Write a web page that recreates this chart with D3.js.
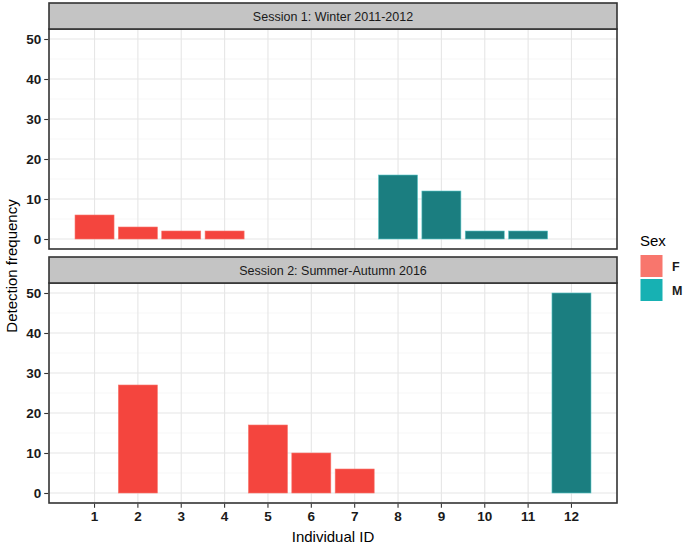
<!DOCTYPE html>
<html>
<head>
<meta charset="utf-8">
<script src="https://cdn.jsdelivr.net/npm/d3@7"></script>
<style>
	body { margin: 0; background: #fff; }
	text { font-family: "Liberation Sans", Arial, sans-serif; }
</style>
</head>
<body>
<div id="chart"></div>
<script>
const ids = [1, 2, 3, 4, 5, 6, 7, 8, 9, 10, 11, 12];
const sessions = ['Session 1: Winter 2011-2012', 'Session 2: Summer-Autumn 2016'];
const sexes = ['F', 'M'];
const yTicks = [0, 10, 20, 30, 40, 50];

// detections per individual: [id, sex, count]
const session1 = [
	[1, 'F', 6], [2, 'F', 3], [3, 'F', 2], [4, 'F', 2],
	[8, 'M', 16], [9, 'M', 12], [10, 'M', 2], [11, 'M', 2]
];
const session2 = [
	[2, 'F', 27], [5, 'F', 17], [6, 'F', 10], [7, 'F', 6],
	[12, 'M', 50]
];

const fills = {F: '#F4453E', M: '#1B7E80'};
const strokes = {F: '#F8766D', M: '#5CC8C9'};
const keyFills = {F: '#F8766D', M: '#17B1B3'};

const width = 685, height = 545;
const panelLeft = 49, panelRight = 617;
const panels = [
	{label: sessions[0], data: session1, stripTop: 3, top: 29, bottom: 249},
	{label: sessions[1], data: session2, stripTop: 257, top: 283, bottom: 503}
];

const svg = d3.select('#chart')
	.append('svg')
	.attr('width', width)
	.attr('height', height);

// bar width = 0.9 of step, first tick 1.05 step from the panel edge
const xScale = d3.scaleBand()
	.domain(ids)
	.range([panelLeft, panelRight])
	.paddingInner(0.1)
	.paddingOuter(0.6);

const xCentre = id => xScale(id) + xScale.bandwidth() / 2;

const _drawPanel = (p) => {
	const yScale = d3.scaleLinear()
		.domain([-2.5, 52.5])
		.range([p.bottom, p.top]);

	const g = svg.append('g');

	// minor grid
	g.selectAll('.minor')
		.data([5, 15, 25, 35, 45])
		.enter()
		.append('line')
			.attr('x1', panelLeft).attr('x2', panelRight)
			.attr('y1', d => yScale(d)).attr('y2', d => yScale(d))
			.attr('stroke', '#F2F2F2')
			.attr('stroke-width', 0.6);

	// major grid
	g.selectAll('.hmajor')
		.data(yTicks)
		.enter()
		.append('line')
			.attr('x1', panelLeft).attr('x2', panelRight)
			.attr('y1', d => yScale(d)).attr('y2', d => yScale(d))
			.attr('stroke', '#E6E6E6')
			.attr('stroke-width', 1.1);

	g.selectAll('.vmajor')
		.data(ids)
		.enter()
		.append('line')
			.attr('x1', d => xCentre(d)).attr('x2', d => xCentre(d))
			.attr('y1', p.top).attr('y2', p.bottom)
			.attr('stroke', '#E6E6E6')
			.attr('stroke-width', 1.1);

	// bars
	g.selectAll('.bar')
		.data(p.data)
		.enter()
		.append('rect')
			.attr('x', d => xScale(d[0]))
			.attr('width', xScale.bandwidth())
			.attr('y', d => yScale(d[2]))
			.attr('height', d => yScale(0) - yScale(d[2]))
			.attr('fill', d => fills[d[1]])
			.attr('stroke', d => strokes[d[1]])
			.attr('stroke-width', 0.6);

	// panel border
	g.append('rect')
		.attr('x', panelLeft).attr('y', p.top)
		.attr('width', panelRight - panelLeft)
		.attr('height', p.bottom - p.top)
		.attr('fill', 'none')
		.attr('stroke', '#333')
		.attr('stroke-width', 1.6);

	// strip
	g.append('rect')
		.attr('x', panelLeft).attr('y', p.stripTop)
		.attr('width', panelRight - panelLeft)
		.attr('height', p.top - p.stripTop)
		.attr('fill', '#C4C4C4')
		.attr('stroke', '#333')
		.attr('stroke-width', 1.6);

	g.append('text')
		.attr('x', (panelLeft + panelRight) / 2)
		.attr('y', (p.stripTop + p.top) / 2 + 4.5)
		.attr('text-anchor', 'middle')
		.attr('font-size', 12.5)
		.attr('fill', '#1A1A1A')
		.text(p.label);

	// y axis
	const yAxis = g.append('g')
		.attr('transform', `translate(${panelLeft - 0.8}, 0)`)
		.call(d3.axisLeft(yScale).tickValues(yTicks).tickSize(4).tickPadding(3));
	yAxis.select('.domain').remove();
	yAxis.selectAll('line').attr('stroke', '#333').attr('stroke-width', 1.1);
	yAxis.selectAll('text')
		.attr('font-size', 13.5)
		.attr('font-weight', 'bold')
		.attr('fill', '#1A1A1A');
};

panels.forEach(_drawPanel);

// x axis under the bottom panel
const xAxis = svg.append('g')
	.attr('transform', `translate(0, ${panels[1].bottom + 0.8})`)
	.call(d3.axisBottom(xScale).tickSize(4).tickPadding(4));
xAxis.select('.domain').remove();
xAxis.selectAll('line').attr('stroke', '#333').attr('stroke-width', 1.1);
xAxis.selectAll('text')
	.attr('font-size', 13.5)
	.attr('font-weight', 'bold')
	.attr('fill', '#1A1A1A');

// axis titles
svg.append('text')
	.attr('x', (panelLeft + panelRight) / 2)
	.attr('y', 542)
	.attr('text-anchor', 'middle')
	.attr('font-size', 15)
	.attr('fill', '#000')
	.text('Individual ID');

svg.append('text')
	.attr('transform', `translate(17, ${(panels[0].top + panels[1].bottom) / 2}) rotate(-90)`)
	.attr('text-anchor', 'middle')
	.attr('font-size', 15)
	.attr('fill', '#000')
	.text('Detection frequency');

// legend
const legend = svg.append('g').attr('transform', 'translate(640, 0)');
legend.append('text')
	.attr('x', 0).attr('y', 246)
	.attr('font-size', 15)
	.attr('fill', '#000')
	.text('Sex');

const keys = legend.selectAll('.key')
	.data(sexes)
	.enter()
	.append('g')
	.attr('transform', (d, i) => `translate(0, ${255 + i * 24})`);

keys.append('rect')
	.attr('x', 0.5).attr('y', 0)
	.attr('width', 22).attr('height', 22)
	.attr('fill', d => keyFills[d]);

keys.append('text')
	.attr('x', 32).attr('y', 16)
	.attr('font-size', 12.5)
	.attr('font-weight', 'bold')
	.attr('fill', '#1A1A1A')
	.text(d => d);
</script>
</body>
</html>
